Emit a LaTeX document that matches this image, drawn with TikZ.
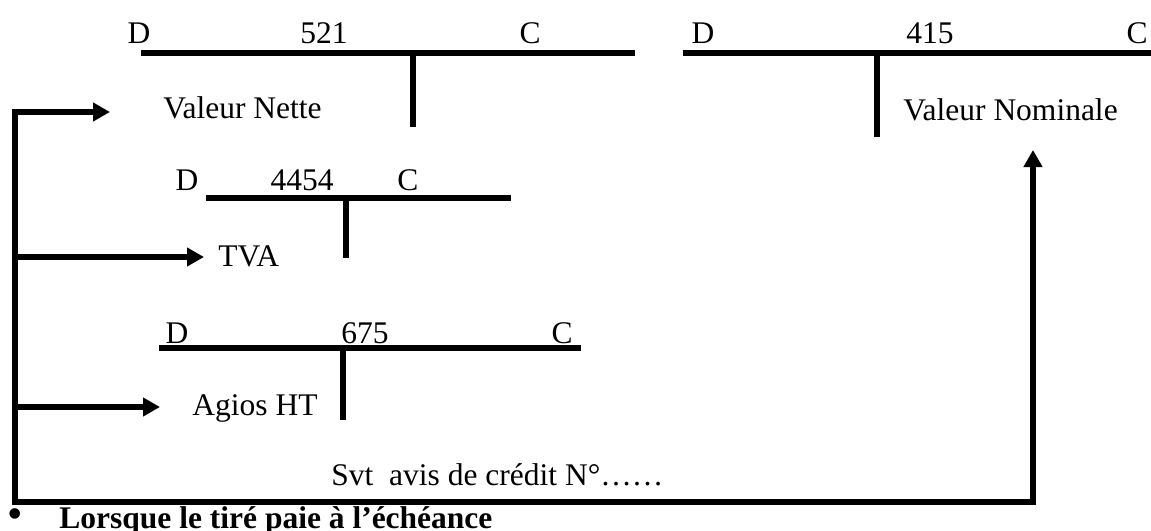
\documentclass[tikz,border=0pt]{standalone}
\usepackage{fontspec}
\setmainfont{Liberation Serif}
\usetikzlibrary{arrows.meta}
\begin{document}
\begin{tikzpicture}[x=0.5pt,y=-0.5pt,
  acct/.style={line width=2.8pt},
  lbl/.style={inner sep=0pt,anchor=base,font=\fontsize{15.75}{18}\selectfont},
  lblw/.style={lbl,anchor=base west},
  conn/.style={line width=2.8pt,line join=miter},
  shadow/.style={conn,gray!60,shift={(1.3,1.3)}},
  tip/.style={-{Triangle[length=8.5pt,width=9pt]}},
  tips/.style={{Triangle[length=8.5pt,width=9pt]}-{Triangle[length=8.5pt,width=9pt]}},
]
\useasboundingbox (0,0) rectangle (1151,530);
\clip (0,0) rectangle (1151,530);

% account 521
\node[lbl] (d521) at (139,43) {D};
\node[lbl] (n521) at (324,43) {521};
\node[lbl] (c521) at (530,43) {C};
\draw[acct] (141,53) -- (635,53) (413,53) -- (413,127);
\node[lblw] (vnet) at (163,118) {Valeur Nette};

% account 415
\node[lbl] (d415) at (703,43) {D};
\node[lbl] (n415) at (930,43) {415};
\node[lbl] (c415) at (1137,43) {C};
\draw[acct] (683,53) -- (1151,53) (877,53) -- (877,137);
\node[lblw] (vnom) at (903,120) {Valeur Nominale};

% account 4454
\node[lbl] (d4454) at (187,190) {D};
\node[lbl] (n4454) at (302,190) {4454};
\node[lbl] (c4454) at (408,190) {C};
\draw[acct] (206,198) -- (511,198) (346,198) -- (346,258);
\node[lblw] (tva) at (218,266) {TVA};

% account 675
\node[lbl] (d675) at (177,343) {D};
\node[lbl] (n675) at (365,343) {675};
\node[lbl] (c675) at (562,343) {C};
\draw[acct] (159,348) -- (581,348) (343,348) -- (343,420);
\node[lblw] (agios) at (192,415) {Agios HT};

% connector
\coordinate (tNet) at (110,112);
\coordinate (jNet) at (15,112);
\coordinate (jTva) at (15,257);
\coordinate (tTva) at (204,257);
\coordinate (jAg) at (15,407);
\coordinate (tAg) at (160,407);
\coordinate (bl) at (15,502);
\coordinate (br) at (1033,502);
\coordinate (tNom) at (1033,150);
\draw[shadow] (jNet) -- (bl) -- (br) -- ([yshift=-20]tNom);
\draw[conn,tips] (tNet) -- (jNet) -- (bl) -- (br) -- (tNom);
\draw[conn,tip] (jTva) -- (tTva);
\draw[conn,tip] (jAg) -- (tAg);

\node[lblw] (svt) at (331,485) {Svt\ \ avis de crédit N°……};

\node[lbl,font=\fontsize{22}{24}\selectfont] (bul) at (15,528) {\textbullet};
\node[lblw,font=\fontsize{15.75}{18}\selectfont\bfseries] (lors) at (59,528) {Lorsque le tiré paie à l’échéance};
\end{tikzpicture}
\end{document}
